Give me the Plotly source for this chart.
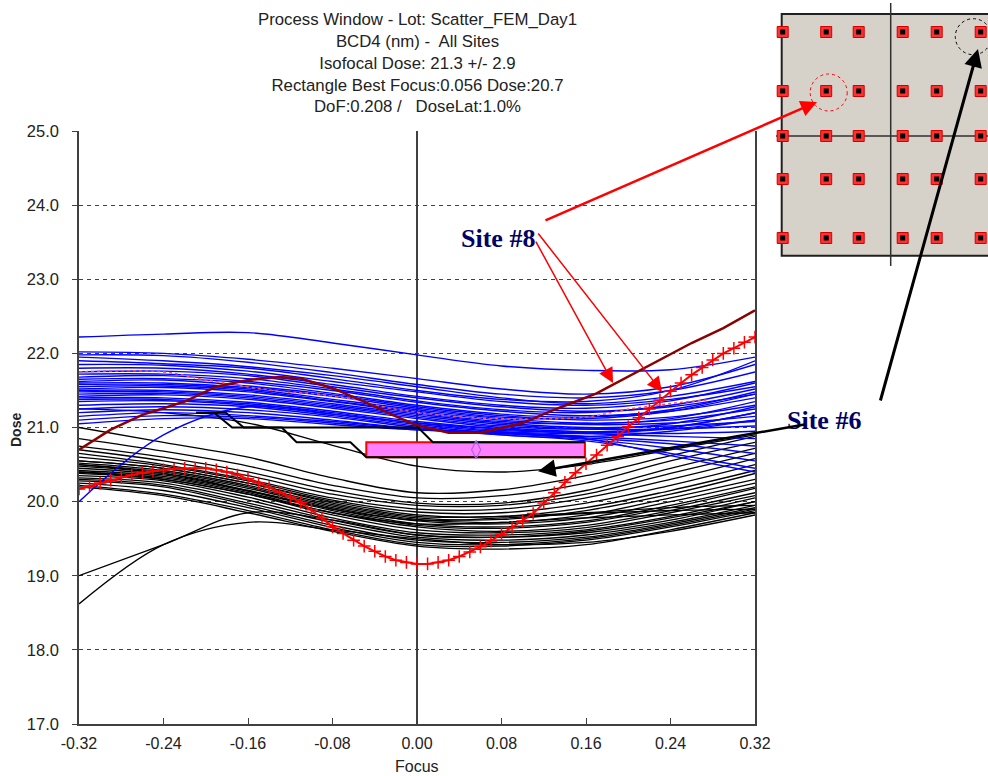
import plotly.graph_objects as go

W, H = 988, 776

# ---------------- data ----------------
focus_grid = [-0.32, -0.24, -0.16, -0.08, 0.0, 0.08, 0.16, 0.24, 0.32]

blue_curves = [
    [22.22, 22.26, 22.28, 22.14, 21.98, 21.83, 21.77, 21.78, 21.95],
    [22.02, 22.00, 21.92, 21.80, 21.66, 21.52, 21.45, 21.55, 21.85],
    [21.98, 21.97, 21.88, 21.74, 21.58, 21.45, 21.40, 21.50, 21.75],
    [21.95, 21.90, 21.82, 21.70, 21.55, 21.40, 21.32, 21.42, 21.62],
    [21.90, 21.86, 21.80, 21.66, 21.50, 21.38, 21.35, 21.50, 21.90],
    [21.85, 21.84, 21.76, 21.62, 21.48, 21.35, 21.30, 21.38, 21.55],
    [21.80, 21.80, 21.72, 21.58, 21.42, 21.30, 21.26, 21.36, 21.60],
    [21.75, 21.76, 21.70, 21.55, 21.40, 21.28, 21.22, 21.28, 21.45],
    [21.72, 21.72, 21.66, 21.52, 21.36, 21.24, 21.20, 21.30, 21.52],
    [21.68, 21.70, 21.62, 21.50, 21.34, 21.22, 21.16, 21.22, 21.40],
    [21.65, 21.66, 21.60, 21.46, 21.30, 21.18, 21.14, 21.24, 21.48],
    [21.62, 21.64, 21.56, 21.44, 21.28, 21.16, 21.10, 21.14, 21.30],
    [21.60, 21.60, 21.54, 21.42, 21.26, 21.14, 21.12, 21.22, 21.45],
    [21.58, 21.58, 21.52, 21.38, 21.24, 21.12, 21.06, 21.10, 21.25],
    [21.55, 21.56, 21.50, 21.36, 21.22, 21.10, 21.04, 21.06, 21.15],
    [21.52, 21.54, 21.48, 21.35, 21.20, 21.08, 21.05, 21.12, 21.35],
    [21.50, 21.50, 21.44, 21.32, 21.18, 21.06, 21.00, 21.02, 21.08],
    [21.48, 21.48, 21.42, 21.30, 21.16, 21.04, 20.98, 20.98, 21.02],
    [21.45, 21.46, 21.40, 21.28, 21.14, 21.02, 20.98, 21.05, 21.28],
    [21.42, 21.44, 21.38, 21.26, 21.12, 21.00, 20.94, 20.92, 20.95],
    [21.40, 21.40, 21.34, 21.22, 21.08, 20.98, 20.92, 20.88, 20.85],
    [21.38, 21.38, 21.32, 21.20, 21.06, 20.96, 20.94, 21.00, 21.20],
    [21.35, 21.36, 21.30, 21.18, 21.04, 20.94, 20.88, 20.82, 20.75],
    [21.30, 21.32, 21.28, 21.16, 21.02, 20.92, 20.86, 20.78, 20.65],
    [21.25, 21.28, 21.24, 21.14, 21.00, 20.90, 20.84, 20.72, 20.55],
    [21.20, 21.24, 21.20, 21.10, 20.98, 20.90, 20.82, 20.65, 20.45],
    [21.15, 21.20, 21.16, 21.08, 20.98, 20.92, 20.88, 20.95, 21.10],
    [21.10, 21.16, 21.14, 21.06, 20.97, 20.94, 20.92, 21.00, 21.20],
    [21.05, 21.12, 21.12, 21.04, 20.97, 20.93, 20.85, 20.62, 20.40],
    [20.00, 20.90, 21.28, 21.18, 21.06, 20.98, 20.93, 20.98, 21.10],
]

black_curves = [
    [21.25, 21.20, 21.06, 20.76, 20.48, 20.40, 20.50, 20.70, 20.90],
    [21.00, 20.80, 20.60, 20.32, 20.12, 20.16, 20.35, 20.62, 20.88],
    [20.85, 20.68, 20.48, 20.22, 20.05, 20.08, 20.25, 20.55, 20.80],
    [20.75, 20.60, 20.40, 20.15, 19.98, 19.98, 20.15, 20.45, 20.72],
    [20.70, 20.55, 20.35, 20.10, 19.95, 19.95, 20.10, 20.38, 20.65],
    [20.65, 20.50, 20.30, 20.05, 19.90, 19.90, 20.05, 20.30, 20.58],
    [20.60, 20.48, 20.28, 20.02, 19.86, 19.85, 19.98, 20.22, 20.50],
    [20.55, 20.45, 20.25, 20.00, 19.82, 19.80, 19.92, 20.15, 20.42],
    [20.52, 20.42, 20.22, 19.96, 19.78, 19.76, 19.88, 20.10, 20.38],
    [20.50, 20.40, 20.20, 19.94, 19.76, 19.72, 19.82, 20.05, 20.30],
    [20.48, 20.38, 20.18, 19.92, 19.74, 19.70, 19.78, 20.00, 20.25],
    [20.45, 20.36, 20.15, 19.90, 19.70, 19.66, 19.74, 19.95, 20.20],
    [20.42, 20.34, 20.14, 19.88, 19.68, 19.64, 19.72, 19.92, 20.18],
    [20.40, 20.32, 20.12, 19.85, 19.66, 19.60, 19.68, 19.88, 20.12],
    [20.38, 20.30, 20.10, 19.82, 19.62, 19.58, 19.65, 19.85, 20.08],
    [20.35, 20.28, 20.06, 19.78, 19.58, 19.55, 19.62, 19.80, 20.05],
    [20.32, 20.25, 20.02, 19.75, 19.55, 19.52, 19.58, 19.75, 20.00],
    [20.30, 20.22, 19.98, 19.72, 19.52, 19.48, 19.55, 19.72, 19.95],
    [20.28, 20.20, 19.95, 19.68, 19.48, 19.45, 19.52, 19.70, 19.92],
    [20.25, 20.15, 19.92, 19.65, 19.45, 19.42, 19.50, 19.68, 19.90],
    [20.22, 20.10, 19.88, 19.62, 19.42, 19.40, 19.48, 19.66, 19.88],
    [20.20, 20.08, 19.85, 19.60, 19.40, 19.36, 19.42, 19.62, 19.85],
    [20.40, 20.30, 20.10, 19.85, 19.70, 19.72, 19.78, 19.82, 19.85],
    [20.50, 20.38, 20.15, 19.90, 19.75, 19.78, 19.84, 19.88, 19.90],
    [20.55, 20.45, 20.25, 19.98, 19.80, 19.80, 19.85, 19.92, 19.95],
    [19.00, 19.42, 19.85, 19.75, 19.55, 19.52, 19.60, 19.78, 20.00],
    [18.62, 19.42, 19.72, 19.62, 19.50, 19.42, 19.45, 19.60, 19.82],
]

# site #8 fitted curve (red, with cross markers)
red_focus = [round(-0.32 + 0.01 * i, 2) for i in range(65)]
red_dose = [20.17, 20.21, 20.25, 20.29, 20.33, 20.36, 20.39, 20.41, 20.43, 20.44,
            20.45, 20.45, 20.45, 20.43, 20.40, 20.36, 20.31, 20.25, 20.19, 20.13,
            20.06, 19.99, 19.89, 19.78, 19.66, 19.57, 19.48, 19.40, 19.33, 19.26,
            19.21, 19.18, 19.16, 19.16, 19.18, 19.21, 19.26, 19.32, 19.39, 19.47,
            19.56, 19.65, 19.74, 19.84, 19.98, 20.12, 20.26, 20.39, 20.51, 20.63,
            20.76, 20.88, 21.01, 21.13, 21.25, 21.37, 21.49, 21.60, 21.71, 21.81,
            21.91, 22.00, 22.07, 22.15, 22.22]

# dark red curve
maroon_focus = [-0.32, -0.29, -0.26, -0.22, -0.19, -0.16, -0.13, -0.11, -0.08, -0.05,
                -0.02, 0.00, 0.03, 0.06, 0.10, 0.13, 0.17, 0.20, 0.23, 0.26, 0.29, 0.32]
maroon_dose = [20.70, 20.97, 21.17, 21.35, 21.55, 21.64, 21.68, 21.66, 21.53, 21.35,
               21.15, 21.03, 20.93, 20.93, 21.06, 21.24, 21.46, 21.69, 21.91, 22.14,
               22.34, 22.58]

# faint dotted red curve
dotred_focus = [-0.32, -0.24, -0.20, -0.125, -0.10, -0.057, -0.025, 0.057, 0.159, 0.197, 0.244, 0.274]
dotred_dose = [21.75, 21.75, 21.64, 21.48, 21.46, 21.37, 21.26, 21.13, 21.14, 21.24, 21.33, 21.37]

# process-window contour steps
win_up_focus = [-0.209, -0.181, -0.164, 0.001, 0.015, 0.159]
win_up_dose = [21.2, 21.2, 21.0, 21.0, 20.8, 20.8]
win_lo_focus = [-0.209, -0.192, -0.175, -0.128, -0.114, -0.063, -0.048, 0.159]
win_lo_dose = [21.2, 21.2, 21.0, 21.0, 20.8, 20.8, 20.6, 20.6]

# best rectangle
best_focus, best_dose = 0.056, 20.7
rect_focus = [-0.048, 0.159]
rect_dose = [20.6, 20.8]

x_tick_vals = [-0.32, -0.24, -0.16, -0.08, 0.0, 0.08, 0.16, 0.24, 0.32]
x_tick_text = ["-0.32", "-0.24", "-0.16", "-0.08", "0.00", "0.08", "0.16", "0.24", "0.32"]
y_tick_vals = [17, 18, 19, 20, 21, 22, 23, 24, 25]
y_tick_text = ["17.0", "18.0", "19.0", "20.0", "21.0", "22.0", "23.0", "24.0", "25.0"]

title_lines = ["Process Window - Lot: Scatter_FEM_Day1",
               "BCD4 (nm) -\u00a0 All Sites",
               "Isofocal Dose: 21.3 +/- 2.9",
               "Rectangle Best Focus:0.056 Dose:20.7",
               "DoF:0.208 /\u00a0\u00a0 DoseLat:1.0%"]

# wafer inset (field layout, arbitrary mm-like units)
site_cols = [-10.8, -6.45, -3.2, 1.2, 4.6, 9.0]
site_rows = [10.4, 4.5, 0.0, -4.3, -10.2]

# ---------------- figure ----------------
fig = go.Figure()

for c in black_curves:
    fig.add_trace(go.Scatter(x=focus_grid, y=c, mode="lines",
                             line=dict(color="black", width=1.3, shape="spline", smoothing=1.0),
                             hoverinfo="skip"))
for c in blue_curves:
    fig.add_trace(go.Scatter(x=focus_grid, y=c, mode="lines",
                             line=dict(color="#0000ff", width=1.4, shape="spline", smoothing=1.0),
                             hoverinfo="skip"))

fig.add_trace(go.Scatter(x=dotred_focus, y=dotred_dose, mode="lines",
                         line=dict(color="#ff5050", width=1.5, dash="dot", shape="spline"),
                         hoverinfo="skip"))
fig.add_trace(go.Scatter(x=maroon_focus, y=maroon_dose, mode="lines",
                         line=dict(color="#8b0000", width=2.5), hoverinfo="skip"))
fig.add_trace(go.Scatter(x=red_focus, y=red_dose, mode="lines+markers",
                         line=dict(color="#ff0000", width=2),
                         marker=dict(symbol="cross-thin", size=9,
                                     line=dict(color="#ff0000", width=1.5)),
                         hoverinfo="skip"))

# best rectangle
fig.add_trace(go.Scatter(
    x=[rect_focus[0], rect_focus[1], rect_focus[1], rect_focus[0], rect_focus[0]],
    y=[rect_dose[0], rect_dose[0], rect_dose[1], rect_dose[1], rect_dose[0]],
    mode="lines", fill="toself", fillcolor="#ff80ff",
    line=dict(color="#ff0000", width=2), hoverinfo="skip"))

fig.add_trace(go.Scatter(x=win_up_focus, y=win_up_dose, mode="lines",
                         line=dict(color="black", width=2), hoverinfo="skip"))
fig.add_trace(go.Scatter(x=win_lo_focus, y=win_lo_dose, mode="lines",
                         line=dict(color="black", width=2), hoverinfo="skip"))

fig.add_trace(go.Scatter(x=[best_focus], y=[best_dose], mode="markers",
                         marker=dict(symbol="diamond-tall-open", size=13,
                                     line=dict(color="#3030ff", width=1.2)),
                         hoverinfo="skip"))

# inset site markers
sx, sy = [], []
for yv in site_rows:
    for xv in site_cols:
        sx.append(xv)
        sy.append(yv)
fig.add_trace(go.Scatter(x=sx, y=sy, xaxis="x2", yaxis="y2", mode="markers",
                         marker=dict(symbol="square", size=11, color="#ff3030",
                                     line=dict(color="#d00000", width=1)),
                         cliponaxis=False, hoverinfo="skip"))
fig.add_trace(go.Scatter(x=sx, y=sy, xaxis="x2", yaxis="y2", mode="markers",
                         marker=dict(symbol="square", size=5, color="#000000"),
                         cliponaxis=False, hoverinfo="skip"))

xdom = [79 / W, 755 / W]
ydom = [1 - 724 / H, 1 - 131 / H]

fig.update_layout(
    width=W, height=H,
    margin=dict(l=0, r=0, t=0, b=0, autoexpand=False),
    paper_bgcolor="white", plot_bgcolor="white",
    showlegend=False,
    font=dict(family="Liberation Sans, Arial, sans-serif", size=16, color="#222222"),
    xaxis=dict(domain=xdom, range=[-0.32, 0.32], tickvals=x_tick_vals, ticktext=x_tick_text,
               showgrid=False, zeroline=True, zerolinecolor="#404040", zerolinewidth=1.5,
               showline=True, linecolor="#404040", linewidth=1.5,
               ticks="inside", ticklen=6, tickcolor="#404040",
               tickfont=dict(size=16),
               ticklabelstandoff=4, anchor="y", fixedrange=True, automargin=False),
    yaxis=dict(domain=ydom, range=[17, 25], tickvals=y_tick_vals, ticktext=y_tick_text,
               showgrid=True, gridcolor="#404040", gridwidth=1, griddash="4px,4px",
               zeroline=False, showline=True, linecolor="#404040", linewidth=1.5, mirror=True,
               ticks="outside", ticklen=5, tickcolor="#404040",
               tickfont=dict(size=16.5),
               ticklabelstandoff=10, anchor="x", fixedrange=True, automargin=False),
    xaxis2=dict(domain=[776 / W, 1], range=[-11.47, 9.73], visible=False, anchor="y2",
                fixedrange=True, automargin=False),
    yaxis2=dict(domain=[1 - 266 / H, 1 - 3 / H], range=[-13.0, 13.3], visible=False,
                anchor="x2", fixedrange=True, automargin=False),
)

# inset drawing
fig.add_shape(type="rect", xref="x2", yref="y2", x0=-10.9, x1=12, y0=-11.97, y1=12.2,
              fillcolor="#d6d2ca", line=dict(color="#202020", width=2), layer="below")
fig.add_shape(type="line", xref="x2", yref="y2", x0=0, x1=0, y0=-13.0, y1=13.3,
              line=dict(color="#303030", width=1.5), layer="below")
fig.add_shape(type="line", xref="x2", yref="y2", x0=-11.47, x1=9.73, y0=0, y1=0,
              line=dict(color="#303030", width=1.5), layer="below")
fig.add_shape(type="circle", xref="x2", yref="y2", x0=-6.2 - 1.85, x1=-6.2 + 1.85,
              y0=4.35 - 1.85, y1=4.35 + 1.85, line=dict(color="#ff0000", width=1, dash="dot"))
fig.add_shape(type="circle", xref="x2", yref="y2", x0=8.26 - 1.8, x1=8.26 + 1.8,
              y0=9.93 - 1.8, y1=9.93 + 1.8, line=dict(color="#000000", width=1, dash="dot"))

# titles / labels
fig.add_annotation(xref="paper", yref="paper", x=417 / W, y=1 - 8 / H, xanchor="center",
                   yanchor="top", showarrow=False, align="center",
                   text="<br>".join(title_lines), font=dict(size=16.8, color="#222222"))
fig.add_annotation(xref="paper", yref="paper", x=417 / W, y=1 - 766 / H, xanchor="center",
                   yanchor="middle", showarrow=False, text="Focus", font=dict(size=16))
fig.add_annotation(xref="paper", yref="paper", x=16 / W, y=1 - 430 / H, xanchor="center",
                   yanchor="middle", showarrow=False, text="<b>Dose</b>", textangle=-90,
                   font=dict(size=14))

site_font = dict(family="Liberation Serif, Times New Roman, serif", size=26, color="#000066")
fig.add_annotation(xref="paper", yref="paper", x=498 / W, y=1 - 222 / H, showarrow=False,
                   text="<b>Site #8</b>", font=site_font)
fig.add_annotation(xref="paper", yref="paper", x=863 / W, y=1 - 421 / H, showarrow=False,
                   text="<b>Site #6</b>", font=site_font)

# arrows
fig.add_annotation(xref="x2", yref="y2", x=-7.37, y=3.4, ax=-273, ay=119, text="",
                   showarrow=True, arrowhead=2, arrowsize=1.3, arrowwidth=2.5,
                   arrowcolor="#ff0000")
fig.add_annotation(xref="x", yref="y", x=0.1856, y=21.60, ax=-78, ay=-143, text="",
                   showarrow=True, arrowhead=2, arrowsize=2, arrowwidth=1.5,
                   arrowcolor="#ff0000")
fig.add_annotation(xref="x", yref="y", x=0.232, y=21.48, ax=-125, ay=-160, text="",
                   showarrow=True, arrowhead=2, arrowsize=2, arrowwidth=1.5,
                   arrowcolor="#ff0000")
fig.add_annotation(xref="x", yref="y", x=0.1146, y=20.41, ax=268, ay=-47, text="",
                   showarrow=True, arrowhead=2, arrowsize=1.4, arrowwidth=2.5,
                   arrowcolor="#000000")
fig.add_annotation(xref="x2", yref="y2", x=8.73, y=8.7, ax=-98, ay=353, text="",
                   showarrow=True, arrowhead=2, arrowsize=1.2, arrowwidth=3,
                   arrowcolor="#000000")

fig.write_html("out.html", config={"displayModeBar": False},
               post_script="document.body.style.margin='0';document.body.style.overflow='hidden';")
